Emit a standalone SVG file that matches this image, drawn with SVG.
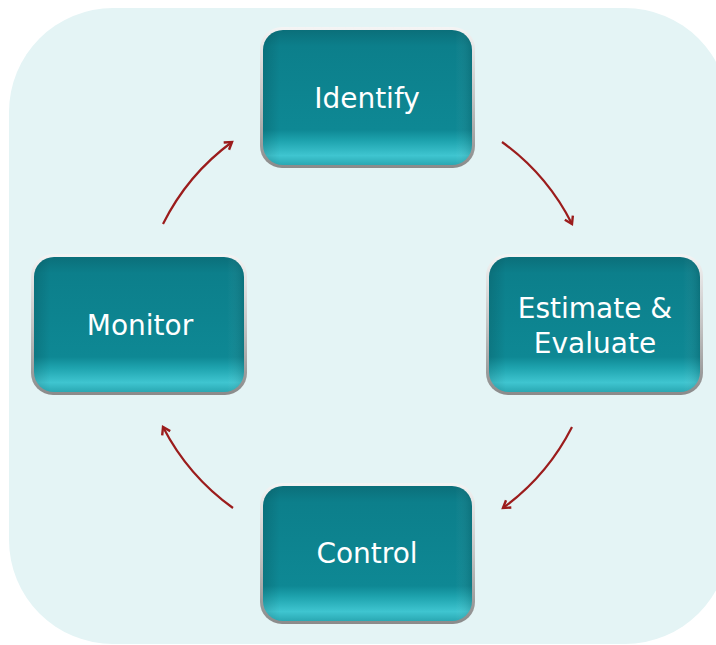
<svg xmlns="http://www.w3.org/2000/svg" width="716" height="645" viewBox="0 0 716 645">
<defs>
<linearGradient id="rim" x1="0" y1="0" x2="0" y2="1">
<stop offset="0" stop-color="#f4f4f4"/>
<stop offset="0.5" stop-color="#c4c4c4"/>
<stop offset="1" stop-color="#8a8a8a"/>
</linearGradient>
<linearGradient id="body" x1="0" y1="0" x2="0" y2="1">
<stop offset="0" stop-color="#0b6f7a"/>
<stop offset="0.12" stop-color="#0c7f8b"/>
<stop offset="0.74" stop-color="#0e8894"/>
<stop offset="0.82" stop-color="#1ea3ae"/>
<stop offset="0.93" stop-color="#3fc5d0"/>
<stop offset="1" stop-color="#2aa8b3"/>
</linearGradient>
<linearGradient id="side" x1="0" y1="0" x2="1" y2="0">
<stop offset="0" stop-color="#000" stop-opacity="0.12"/>
<stop offset="0.08" stop-color="#000" stop-opacity="0"/>
<stop offset="0.92" stop-color="#fff" stop-opacity="0"/>
<stop offset="1" stop-color="#000" stop-opacity="0.12"/>
</linearGradient>
<marker id="ah" markerWidth="12" markerHeight="12" refX="8" refY="6" orient="auto" markerUnits="userSpaceOnUse">
<path d="M1,1.5 L8,6 L1,10.5" fill="none" stroke="#9b1c1c" stroke-width="2.4" stroke-linejoin="miter"/>
</marker>
</defs>
<style>
.rim{fill:url(#rim);}
.body{fill:url(#body);}
.shade{fill:url(#side);}
.lbl{font-family:"DejaVu Sans","Liberation Sans",sans-serif;font-size:28px;fill:#ffffff;text-anchor:middle;}
.arc{fill:none;stroke:#9b1c1c;stroke-width:2.2;marker-end:url(#ah);}
</style>
<rect x="9" y="8" width="720" height="636" rx="104" fill="#e4f4f5"/>
<g id="connectors">
<path class="arc" d="M502,142 A228,228 0 0 1 572,224"/>
<path class="arc" d="M572,427 A228,228 0 0 1 503,508"/>
<path class="arc" d="M233,508 A228,228 0 0 1 163,427"/>
<path class="arc" d="M163,224 A228,228 0 0 1 232,142"/>
</g>
<g id="identify">
<rect class="rim" x="260" y="27" width="215" height="141" rx="22"/>
<rect class="body" x="263" y="30" width="209" height="135" rx="20"/>
<rect class="shade" x="263" y="30" width="209" height="135" rx="20"/>
<text class="lbl" x="367" y="108">Identify</text>
</g>
<g id="estimate">
<rect class="rim" x="486" y="254" width="217" height="141" rx="22"/>
<rect class="body" x="489" y="257" width="211" height="135" rx="20"/>
<rect class="shade" x="489" y="257" width="211" height="135" rx="20"/>
<text class="lbl" x="595" y="318">Estimate &amp;</text>
<text class="lbl" x="595" y="353">Evaluate</text>
</g>
<g id="monitor">
<rect class="rim" x="31" y="254" width="216" height="141" rx="22"/>
<rect class="body" x="34" y="257" width="210" height="135" rx="20"/>
<rect class="shade" x="34" y="257" width="210" height="135" rx="20"/>
<text class="lbl" x="140" y="335">Monitor</text>
</g>
<g id="control">
<rect class="rim" x="260" y="483" width="215" height="141" rx="22"/>
<rect class="body" x="263" y="486" width="209" height="135" rx="20"/>
<rect class="shade" x="263" y="486" width="209" height="135" rx="20"/>
<text class="lbl" x="367" y="563">Control</text>
</g>
</svg>
